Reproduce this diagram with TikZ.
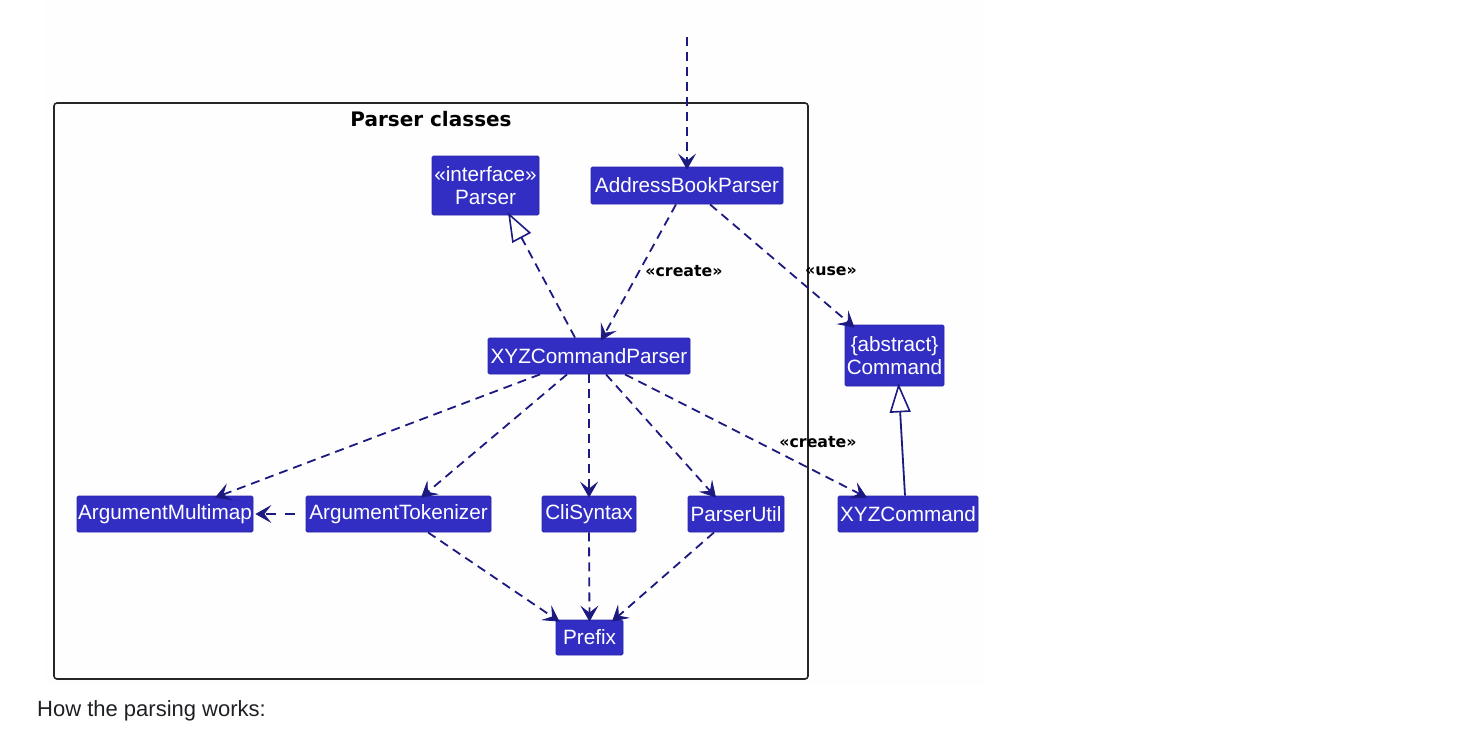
\documentclass[tikz,border=0pt]{standalone}
\usepackage{fontspec}
\setmainfont{Liberation Sans}
\newfontfamily\dvs{DejaVu Sans}
\usetikzlibrary{arrows.meta}
\definecolor{boxfill}{RGB}{50,46,196}
\definecolor{boxdraw}{RGB}{40,36,170}
\definecolor{navy}{RGB}{28,26,128}
\definecolor{bgpanel}{RGB}{254,254,254}
\definecolor{txtdark}{RGB}{30,32,36}
\tikzset{
  cls/.style={fill=boxfill, draw=boxdraw, line width=0.8pt, rounded corners=1.5pt,
    text=white, inner sep=0pt, align=center,
    font=\fontsize{20.7}{24}\selectfont},
  dep/.style={draw=navy, line width=1.8pt, dash pattern=on 9pt off 6pt,
    -{Stealth[length=16pt, width=18pt, inset=7pt, line width=0.8pt]}},
  realize/.style={draw=navy, line width=1.8pt, dash pattern=on 9pt off 6pt,
    -{Triangle[open, length=29pt, width=21pt, line width=1.6pt, fill=white]}},
  inherit/.style={draw=navy, line width=1.8pt,
    -{Triangle[open, length=29pt, width=21pt, line width=1.6pt, fill=white]}},
  stereo/.style={font=\dvs\bfseries\fontsize{15.8}{18}\selectfont, text=black, inner sep=0pt},
}
\begin{document}
\begin{tikzpicture}[x=1pt,y=-1pt]
\useasboundingbox (0,0) rectangle (1482,747);
\fill[bgpanel] (44,0) rectangle (985,685);
% package frame
\draw[line width=1.6pt, draw=black!85, rounded corners=3pt] (54,103) rectangle (808,679);
\node[font=\dvs\bfseries\fontsize{20}{22}\selectfont, inner sep=0pt] (title) at (431,119) {Parser classes};

% nodes
\node[cls, minimum width=107pt, minimum height=59pt] (parser) at (485.5,185.5) {«interface»\\[-1pt]Parser};
\node[cls, minimum width=192pt, minimum height=37pt] (abp) at (687,185.5) {AddressBookParser};
\node[cls, minimum width=202pt, minimum height=36pt] (xyzp) at (589,356) {XYZCommandParser};
\node[cls, minimum width=99pt, minimum height=61pt] (cmd) at (894.5,355.5) {\{abstract\}\\[-1pt]Command};
\node[cls, minimum width=176pt, minimum height=36pt] (amap) at (165,514) {ArgumentMultimap};
\node[cls, minimum width=185pt, minimum height=36pt] (atok) at (398.5,514) {ArgumentTokenizer};
\node[cls, minimum width=94pt, minimum height=36pt] (cli) at (589,514) {CliSyntax};
\node[cls, minimum width=96pt, minimum height=36pt] (putil) at (736,514) {ParserUtil};
\node[cls, minimum width=140pt, minimum height=36pt] (xyzc) at (908,514) {XYZCommand};
\node[cls, minimum width=67pt, minimum height=35pt] (prefix) at (589.5,637.5) {Prefix};

% free end of incoming arrow
\coordinate (entry) at (687,37);

% connectors
\draw[dep] (entry) -- ([yshift=-3pt]abp.north);
\draw[dep] ([xshift=-11pt]abp.south) -- ([xshift=12pt,yshift=-3pt]xyzp.north);
\draw[dep] ([xshift=23pt]abp.south) -- ([xshift=-40pt,yshift=-3pt]cmd.north);
\draw[realize] ([xshift=-14pt]xyzp.north) -- ([xshift=22.5pt,yshift=3pt]parser.south);
\draw[dep] ([xshift=-49pt]xyzp.south) -- ([xshift=50pt,yshift=-2pt]amap.north);
\draw[dep] ([xshift=-22pt]xyzp.south) -- ([xshift=22.5pt,yshift=-2pt]atok.north);
\draw[dep] (xyzp.south) -- ([yshift=-2pt]cli.north);
\draw[dep] ([xshift=17pt]xyzp.south) -- ([xshift=-20pt,yshift=-2pt]putil.north);
\draw[dep] ([xshift=36pt]xyzp.south) -- ([xshift=-41pt,yshift=-2pt]xyzc.north);
\draw[dep, dash pattern=on 10pt off 9pt] ([xshift=-11pt]atok.west) -- ([xshift=2pt]amap.east);
\draw[dep] ([xshift=29.5pt]atok.south) -- ([xshift=-30pt,yshift=-2pt]prefix.north);
\draw[dep] (cli.south) -- ([yshift=-2pt]prefix.north);
\draw[dep] ([xshift=-22pt]putil.south) -- ([xshift=22.5pt,yshift=-2pt]prefix.north);
\draw[inherit] ([xshift=-3pt]xyzc.north) -- ([xshift=4pt,yshift=3pt]cmd.south);

% labels
\node[stereo] (lcreate1) at (684,271) {«create»};
\node[stereo] (luse) at (831,271) {«use»};
\node[stereo] (lcreate2) at (818,442) {«create»};

% caption
\node[anchor=base west, inner sep=0pt, text=txtdark, font=\fontsize{22}{26}\selectfont] (caption) at (37,716) {How the parsing works:};
\end{tikzpicture}
\end{document}
